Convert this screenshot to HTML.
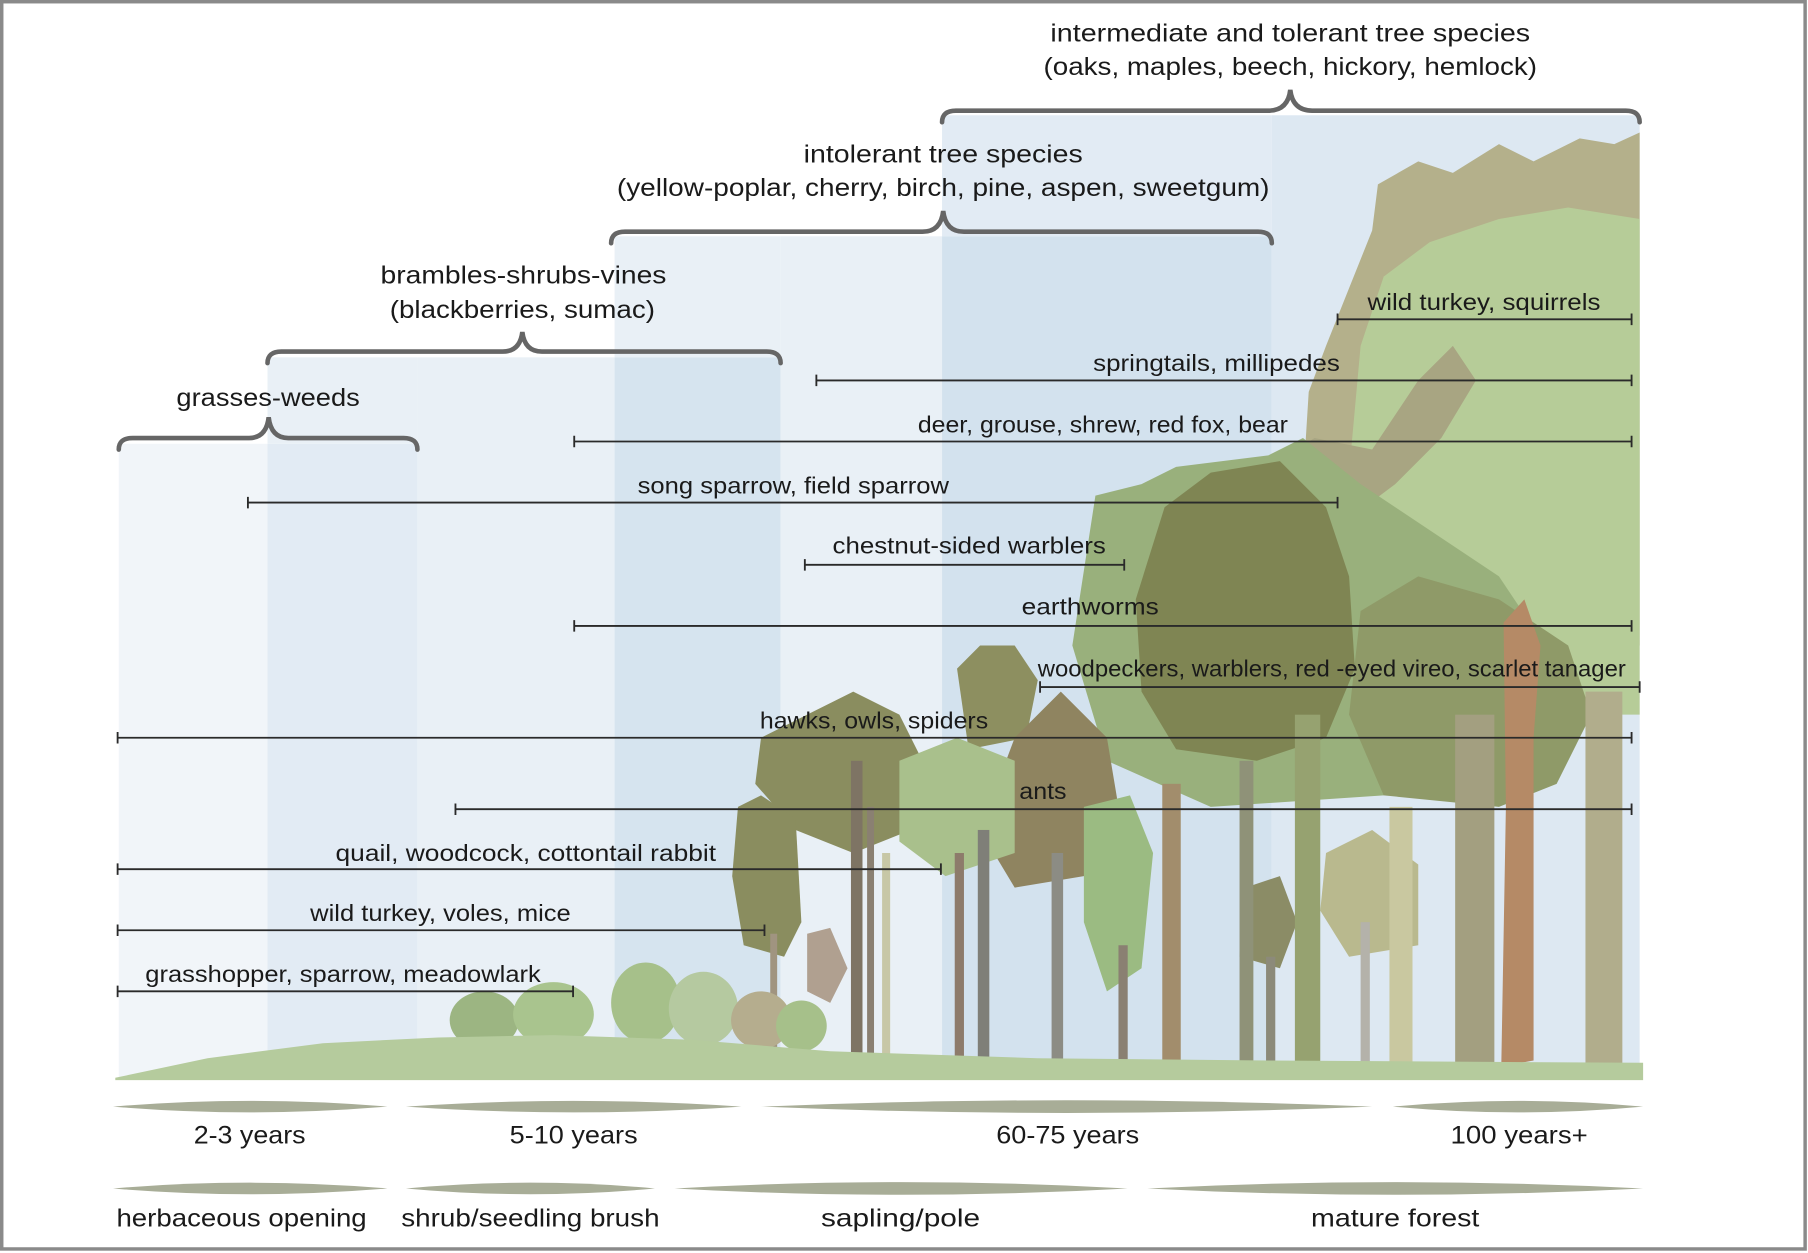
<!DOCTYPE html>
<html><head><meta charset="utf-8"><style>
html,body{margin:0;padding:0;background:#fff;}
svg{display:block;}
text{font-family:"Liberation Sans",sans-serif;fill:#1a1a1a;}
</style></head><body>
<svg width="1808" height="1253" viewBox="0 0 1568 1087" preserveAspectRatio="none" xmlns="http://www.w3.org/2000/svg">
<rect x="0" y="0" width="1568" height="1087" fill="#fff"/>
<rect x="1.5" y="1.5" width="1564" height="1082" fill="none" stroke="#8a8a8a" stroke-width="3"/>
<rect x="103" y="385" width="129" height="550" fill="#f1f5f9"/>
<rect x="232" y="385" width="130" height="550" fill="#e2ebf4"/>
<rect x="232" y="310" width="130" height="75" fill="#e9f0f6"/>
<rect x="362" y="310" width="171" height="625" fill="#e9f0f6"/>
<rect x="533" y="205" width="144" height="105" fill="#e9f0f6"/>
<rect x="533" y="310" width="144" height="625" fill="#d6e4ef"/>
<rect x="677" y="205" width="140" height="730" fill="#e9f0f6"/>
<rect x="817" y="100" width="286" height="105" fill="#e2ebf4"/>
<rect x="817" y="205" width="286" height="730" fill="#d3e2ee"/>
<rect x="1103" y="100" width="319" height="835" fill="#dde8f2"/>
<g>
<path d="M1130 420 L1135 340 L1150 300 L1170 250 L1190 200 L1195 160 L1230 140 L1260 150 L1300 125 L1330 140 L1370 120 L1400 125 L1422 115 L1422 560 L1160 560 Z" fill="#b4b08b"/>
<path d="M1180 300 L1200 240 L1240 210 L1300 190 L1360 180 L1422 190 L1422 620 L1180 620 L1160 520 Z" fill="#b6cc98"/>
<path d="M1110 400 L1140 380 L1190 390 L1230 330 L1260 300 L1280 330 L1250 380 L1210 420 L1170 450 L1140 520 L1100 500 Z" fill="#a8a582"/>
<path d="M950 430 L990 420 L1020 405 L1060 400 L1100 395 L1130 380 L1180 420 L1240 460 L1300 500 L1340 560 L1330 640 L1200 690 L1050 700 L960 660 L930 560 Z" fill="#99b07c"/>
<path d="M1010 440 L1050 410 L1110 400 L1150 440 L1170 500 L1175 580 L1150 640 L1090 660 L1020 650 L990 600 L985 520 Z" fill="#7f8553"/>
<path d="M1180 530 L1230 500 L1300 520 L1360 560 L1380 620 L1350 680 L1300 700 L1200 690 L1170 620 Z" fill="#8f9a68"/>
<path d="M830 580 L850 560 L880 560 L900 590 L890 640 L840 650 Z" fill="#8d8f60"/>
<path d="M880 640 L920 600 L960 640 L970 700 L940 760 L880 770 L850 720 Z" fill="#8f8460"/>
<path d="M660 640 L700 620 L740 600 L780 620 L800 660 L790 720 L740 740 L690 720 L655 680 Z" fill="#8a8d5f"/>
<path d="M780 660 L830 640 L880 660 L880 740 L820 760 L780 730 Z" fill="#a9c08c"/>
<path d="M640 700 L660 690 L690 710 L695 800 L680 830 L645 820 L635 760 Z" fill="#8a8d5f"/>
<path d="M940 700 L980 690 L1000 740 L990 840 L960 860 L940 800 Z" fill="#9bbb82"/>
<path d="M1150 740 L1190 720 L1230 750 L1230 820 L1170 830 L1145 790 Z" fill="#b9b98e"/>
<path d="M1080 770 L1110 760 L1125 800 L1110 840 L1075 830 Z" fill="#8b8c66"/>
<path d="M700 810 L720 805 L735 840 L720 870 L700 860 Z" fill="#b0a090"/>
</g>
<g>
<rect x="1262" y="620" width="34" height="310" fill="#a39f80"/>
<path d="M1304 540 L1322 520 L1336 560 L1330 640 L1330 920 L1302 925 L1306 700 Z" fill="#b58a66"/>
<rect x="1375" y="600" width="32" height="325" fill="#b1ad8c"/>
<rect x="1205" y="700" width="20" height="225" fill="#c9c8a0"/>
<rect x="1180" y="800" width="8" height="125" fill="#b4b2aa"/>
<rect x="1123" y="620" width="22" height="310" fill="#96a270"/>
<rect x="1075" y="660" width="12" height="270" fill="#8f9278"/>
<rect x="1008" y="680" width="16" height="250" fill="#a28d6c"/>
<rect x="970" y="820" width="8" height="105" fill="#8a8072"/>
<rect x="912" y="740" width="10" height="185" fill="#8c8c84"/>
<rect x="848" y="720" width="10" height="200" fill="#7f7f78"/>
<rect x="828" y="740" width="8" height="180" fill="#8d7b6b"/>
<rect x="765" y="740" width="7" height="180" fill="#c7c7a6"/>
<rect x="738" y="660" width="10" height="260" fill="#7e7464"/>
<rect x="752" y="700" width="6" height="220" fill="#8a8072"/>
<rect x="668" y="810" width="6" height="105" fill="#a09480"/>
<rect x="1098" y="830" width="8" height="100" fill="#8c8a7a"/>
</g>
<g>
<ellipse cx="420" cy="885" rx="30" ry="25" fill="#9cb582"/>
<ellipse cx="480" cy="880" rx="35" ry="28" fill="#a9c48e"/>
<ellipse cx="560" cy="870" rx="30" ry="35" fill="#a6c08a"/>
<ellipse cx="610" cy="875" rx="30" ry="32" fill="#b5c9a0"/>
<ellipse cx="660" cy="885" rx="26" ry="25" fill="#b5ad8e"/>
<ellipse cx="695" cy="890" rx="22" ry="22" fill="#a6c08a"/>
</g>
<path d="M100 935 L180 918 L280 905 L380 900 L480 898 L600 902 L720 912 L900 918 L1100 920 L1425 922 L1425 937 L100 937 Z" fill="#b5cb9d"/>
<g fill="none" stroke="#666" stroke-width="4" stroke-linecap="round">
<path d="M817 106 Q817 96 829 96 L1100 96 Q1117 96 1119 78 Q1121 96 1138 96 L1410 96 Q1422 96 1422 106"/>
<path d="M530 211 Q530 201 542 201 L800 201 Q816 201 818 183 Q820 201 836 201 L1091 201 Q1103 201 1103 211"/>
<path d="M232 315 Q232 305 244 305 L436 305 Q451 305 453 288 Q455 305 470 305 L665 305 Q677 305 677 315"/>
<path d="M103 390 Q103 380 115 380 L216 380 Q231 380 233 362 Q235 380 250 380 L350 380 Q362 380 362 390"/>
</g>
<text x="911" y="36" font-size="22" textLength="416" lengthAdjust="spacingAndGlyphs">intermediate and tolerant tree species</text>
<text x="905" y="65" font-size="22" textLength="428" lengthAdjust="spacingAndGlyphs">(oaks, maples, beech, hickory, hemlock)</text>
<text x="697" y="141" font-size="22" textLength="242" lengthAdjust="spacingAndGlyphs">intolerant tree species</text>
<text x="535" y="170" font-size="22" textLength="566" lengthAdjust="spacingAndGlyphs">(yellow-poplar, cherry, birch, pine, aspen, sweetgum)</text>
<text x="330" y="246" font-size="22" textLength="248" lengthAdjust="spacingAndGlyphs">brambles-shrubs-vines</text>
<text x="338" y="276" font-size="22" textLength="230" lengthAdjust="spacingAndGlyphs">(blackberries, sumac)</text>
<text x="153" y="352" font-size="22" textLength="159" lengthAdjust="spacingAndGlyphs">grasses-weeds</text>
<g stroke="#2a2a2a" stroke-width="1.6">
<path d="M1160 277 H1415 M1160 272 V282 M1415 272 V282"/>
<path d="M708 330 H1415 M708 325 V335 M1415 325 V335"/>
<path d="M498 383 H1415 M498 378 V388 M1415 378 V388"/>
<path d="M215 436 H1160 M215 431 V441 M1160 431 V441"/>
<path d="M698 490 H975 M698 485 V495 M975 485 V495"/>
<path d="M498 543 H1415 M498 538 V548 M1415 538 V548"/>
<path d="M902 596 H1422 M902 591 V601 M1422 591 V601"/>
<path d="M102 640 H1415 M102 635 V645 M1415 635 V645"/>
<path d="M395 702 H1415 M395 697 V707 M1415 697 V707"/>
<path d="M102 754 H816 M102 749 V759 M816 749 V759"/>
<path d="M102 807 H663 M102 802 V812 M663 802 V812"/>
<path d="M102 860 H497 M102 855 V865 M497 855 V865"/>
</g>
<g font-size="20">
<text x="1186" y="269" textLength="202" lengthAdjust="spacingAndGlyphs">wild turkey, squirrels</text>
<text x="948" y="322" textLength="214" lengthAdjust="spacingAndGlyphs">springtails, millipedes</text>
<text x="796" y="375" textLength="321" lengthAdjust="spacingAndGlyphs">deer, grouse, shrew, red fox, bear</text>
<text x="553" y="428" textLength="270" lengthAdjust="spacingAndGlyphs">song sparrow, field sparrow</text>
<text x="722" y="480" textLength="237" lengthAdjust="spacingAndGlyphs">chestnut-sided warblers</text>
<text x="886" y="533" textLength="119" lengthAdjust="spacingAndGlyphs">earthworms</text>
<text x="900" y="587" textLength="510" lengthAdjust="spacingAndGlyphs">woodpeckers, warblers, red -eyed vireo, scarlet tanager</text>
<text x="659" y="632" textLength="198" lengthAdjust="spacingAndGlyphs">hawks, owls, spiders</text>
<text x="884" y="693" textLength="41" lengthAdjust="spacingAndGlyphs">ants</text>
<text x="291" y="747" textLength="330" lengthAdjust="spacingAndGlyphs">quail, woodcock, cottontail rabbit</text>
<text x="269" y="799" textLength="226" lengthAdjust="spacingAndGlyphs">wild turkey, voles, mice</text>
<text x="126" y="852" textLength="343" lengthAdjust="spacingAndGlyphs">grasshopper, sparrow, meadowlark</text>
</g>
<g fill="#a8ad97">
<path d="M98 960 Q217 950 336 960 Q217 970 98 960 Z"/>
<path d="M352 960 Q497 950 643 960 Q497 970 352 960 Z"/>
<path d="M660 960 Q925 949 1190 960 Q925 971 660 960 Z"/>
<path d="M1208 960 Q1316 950 1425 960 Q1316 970 1208 960 Z"/>
<path d="M98 1031 Q217 1021 336 1031 Q217 1041 98 1031 Z"/>
<path d="M352 1031 Q460 1021 568 1031 Q460 1041 352 1031 Z"/>
<path d="M585 1031 Q781 1020 978 1031 Q781 1042 585 1031 Z"/>
<path d="M995 1031 Q1210 1020 1425 1031 Q1210 1042 995 1031 Z"/>
</g>
<g font-size="22">
<text x="168" y="992" textLength="97" lengthAdjust="spacingAndGlyphs">2-3 years</text>
<text x="442" y="992" textLength="111" lengthAdjust="spacingAndGlyphs">5-10 years</text>
<text x="864" y="992" textLength="124" lengthAdjust="spacingAndGlyphs">60-75 years</text>
<text x="1258" y="992" textLength="119" lengthAdjust="spacingAndGlyphs">100 years+</text>
<text x="101" y="1064" textLength="217" lengthAdjust="spacingAndGlyphs">herbaceous opening</text>
<text x="348" y="1064" textLength="224" lengthAdjust="spacingAndGlyphs">shrub/seedling brush</text>
<text x="712" y="1064" textLength="138" lengthAdjust="spacingAndGlyphs">sapling/pole</text>
<text x="1137" y="1064" textLength="146" lengthAdjust="spacingAndGlyphs">mature forest</text>
</g>
</svg>
</body></html>
